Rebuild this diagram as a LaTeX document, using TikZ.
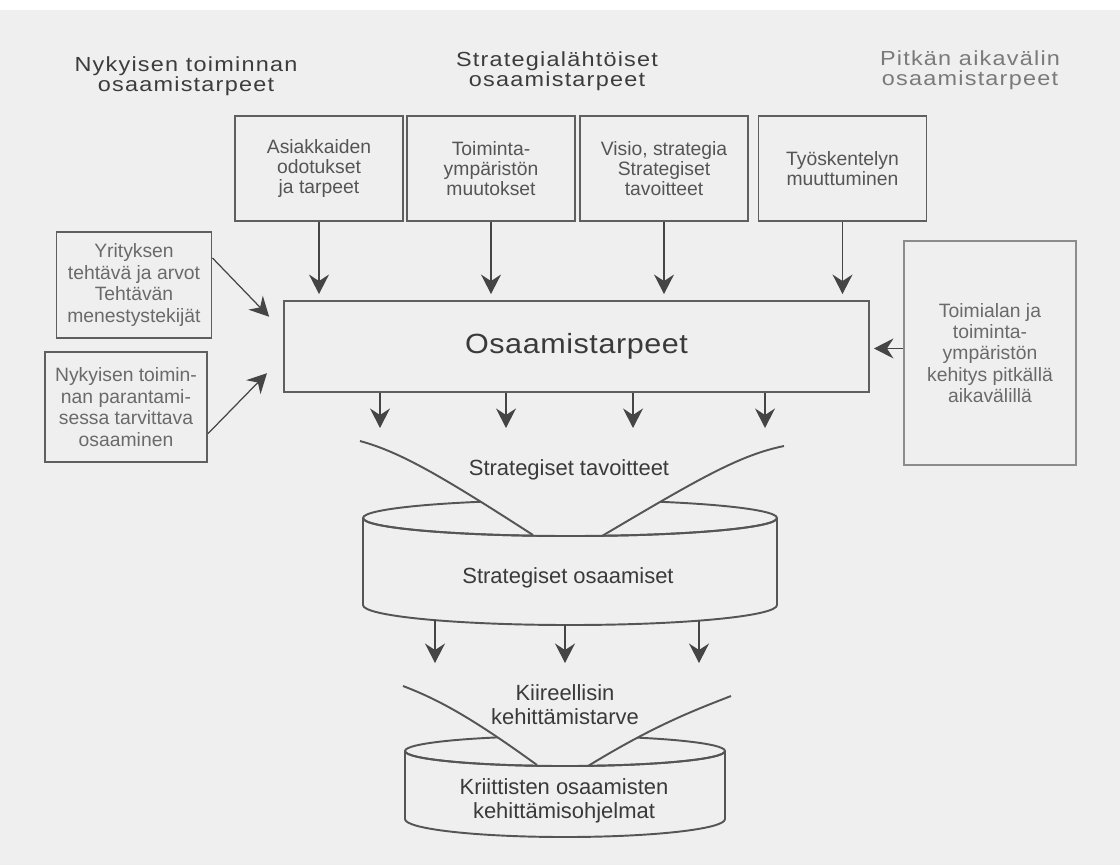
\documentclass[tikz,border=0pt]{standalone}
\usepackage{fontspec}
\setmainfont{Liberation Sans}
\newfontfamily\headfont[FakeStretch=1.15,LetterSpace=6]{Liberation Sans}
\newfontfamily\widefont[FakeStretch=1.1,LetterSpace=2]{Liberation Sans}
\usepackage{tikz}
\usetikzlibrary{arrows.meta}
\newdimen\pxu
\pxu=0.2mm
\definecolor{paper}{HTML}{EFEFEF}
\definecolor{boxline}{HTML}{5F5F5F}
\definecolor{boxtext}{HTML}{555555}
\definecolor{sidetext}{HTML}{6A6A6A}
\definecolor{lightline}{HTML}{8C8C8C}
\definecolor{headdark}{HTML}{3C3C3C}
\definecolor{headlight}{HTML}{7A7A7A}
\definecolor{arrowcol}{HTML}{454545}
\definecolor{lowtext}{HTML}{3A3A3A}

\begin{document}
\begin{tikzpicture}[x=0.2mm,y=-0.2mm,
	heading/.style={align=center,inner sep=0pt,font={\headfont\fontsize{11.6}{11.6}\selectfont}},
	topbox/.style={draw=boxline,line width=1.1pt,minimum width=168\pxu,minimum height=105\pxu,inner sep=0pt,align=center,text=boxtext,font={\fontsize{11}{11.5}\selectfont}},
	sidebox/.style={draw=boxline,line width=1.1pt,inner sep=0pt,align=center,text=sidetext,font={\fontsize{11}{12.2}\selectfont}},
	arr/.style={draw=arrowcol,line width=0.7pt,-{Stealth[length=3.9mm,width=4mm,inset=1.3mm]}},
	cyl/.style={draw=boxtext,line width=1.1pt},
	lowlabel/.style={align=center,inner sep=0pt,text=lowtext,font={\fontsize{12.5}{13.7}\selectfont}}]
	\useasboundingbox (0,0) rectangle (1120,865);
	\fill[paper] (0,0) rectangle (1120,865);
	\fill[white] (0,0) rectangle (1120,10);

	\node[heading,text=headdark] (nykyinen) at (186,76) {Nykyisen toiminnan\\osaamistarpeet};
	\node[heading,text=headdark] (strategia) at (557,71) {Strategialähtöiset\\osaamistarpeet};
	\node[heading,text=headlight] (pitka) at (970,70) {Pitkän aikavälin\\osaamistarpeet};

	\node[topbox] (asiakas) at (319,168.5) {Asiakkaiden\\odotukset\\ja tarpeet};
	\node[topbox] (ymparisto) at (491,168.5) {Toiminta-\\ympäristön\\muutokset};
	\node[topbox] (visio) at (664,168.5) {Visio, strategia\\Strategiset\\tavoitteet};
	\node[topbox] (tyo) at (842.5,168.5) {Työskentelyn\\muuttuminen};

	\node[draw=boxline,line width=1.1pt,minimum width=585\pxu,minimum height=91\pxu,text=lowtext,font={\widefont\fontsize{15.8}{16}\selectfont}] (tarpeet) at (576.5,346.5) {Osaamistarpeet};

	\node[sidebox,minimum width=155\pxu,minimum height=106\pxu] (yritys) at (134,285) {Yrityksen\\tehtävä ja arvot\\Tehtävän\\menestystekijät};
	\node[sidebox,minimum width=162\pxu,minimum height=110\pxu] (parannus) at (126,407) {Nykyisen toimin-\\nan parantami-\\sessa tarvittava\\osaaminen};
	\node[sidebox,draw=lightline,line width=0.9pt,minimum width=172\pxu,minimum height=224\pxu] (toimiala) at (990,353) {Toimialan ja\\toiminta-\\ympäristön\\kehitys pitkällä\\aikavälillä};

	\foreach \src in {asiakas,ymparisto,visio,tyo}
		\draw[arr,shorten >=6\pxu] (\src) -- (\src |- tarpeet.north);
	\draw[arr,shorten >=20\pxu] (yritys.19) -- (tarpeet.177);
	\draw[arr,shorten >=23\pxu] (parannus.342) -- (tarpeet.182);
	\draw[arr,shorten >=4\pxu] (toimiala.177) -- (toimiala.177 -| tarpeet.east);
	\foreach \x in {380,506,633,765}
		\draw[arr] (tarpeet.south -| \x,0) -- ++(0,35);

	\draw[cyl] (570,518) ellipse [x radius=41.4mm,y radius=3.6mm];
	\draw[cyl] (363,518) -- (363,605) arc [start angle=180,end angle=360,x radius=41.4mm,y radius=4mm] -- (777,518);
	\fill[paper] (360,441) .. controls (400,452) and (440,475) .. (533,535) -- (602,536) .. controls (700,478) and (740,455) .. (784,446) -- cycle;
	\draw[cyl] (363,518) arc [start angle=180,end angle=360,x radius=41.4mm,y radius=3.6mm];
	\draw[cyl] (360,441) .. controls (400,452) and (440,475) .. (533,535);
	\draw[cyl] (784,446) .. controls (740,455) and (700,478) .. (602,536);
	\node[lowlabel] (tavoitteet) at (569,470) {Strategiset tavoitteet};
	\node[lowlabel] (osaamiset) at (568,578) {Strategiset osaamiset};

	\foreach \x/\y in {435/620,565/625,699/621}
		\draw[arr] (\x,\y) -- (\x,663);

	\draw[cyl] (565,751) ellipse [x radius=32mm,y radius=3mm];
	\draw[cyl] (405,751) -- (405,819) arc [start angle=180,end angle=360,x radius=32mm,y radius=3.6mm] -- (725,751);
	\fill[paper] (403,686) .. controls (440,700) and (475,720) .. (537,765) -- (588,766) .. controls (655,725) and (695,710) .. (731,696) -- cycle;
	\draw[cyl] (405,751) arc [start angle=180,end angle=360,x radius=32mm,y radius=3mm];
	\draw[cyl] (403,686) .. controls (440,700) and (475,720) .. (537,765);
	\draw[cyl] (731,696) .. controls (695,710) and (655,725) .. (588,766);
	\node[lowlabel] (kiire) at (565,705) {Kiireellisin\\kehittämistarve};
	\node[lowlabel] (ohjelmat) at (564,801) {Kriittisten osaamisten\\kehittämisohjelmat};
\end{tikzpicture}
\end{document}
